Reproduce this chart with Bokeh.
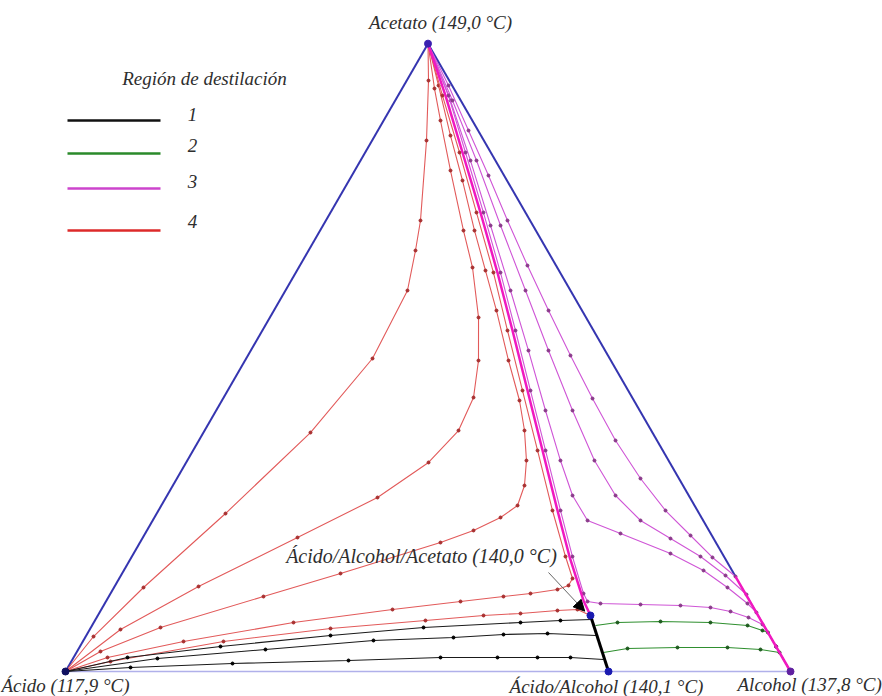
import numpy as np
from bokeh.plotting import figure
from bokeh.models import Range1d, Label, Arrow, NormalHead
from bokeh.embed import file_html
from bokeh.resources import INLINE

# ---- data: residue curves, compositions in mol % (alcohol, acetato); acido = rest
# Region 1 (black)
B1_alc = [0, 7.44, 19.39, 33.69, 45.88, 58.86, 64.21, 68.41]
B1_ace = [0, 2.23, 3.98, 5.73, 7.01, 7.80, 8.12, 8.28]
B2_alc = [0, 11.65, 25.83, 40.01, 50.81, 57.47, 63.46, 70.37]
B2_ace = [0, 2.07, 3.50, 4.94, 5.41, 5.89, 6.05, 5.73]
B3_alc = [0, 8.65, 22.40, 38.16, 50.61, 58.47, 63.99, 68.54, 73.25]
B3_ace = [0, 0.64, 1.27, 1.75, 2.23, 2.23, 2.23, 2.23, 1.91]
# Region 2 (green)
G1_alc = [69.44, 72.24, 78.09, 85.06, 90.41, 92.87, 93.79, 100]
G1_ace = [7.33, 7.80, 7.96, 7.80, 7.33, 6.53, 6.21, 0]
G2_alc = [72.69, 75.69, 82.50, 89.40, 94.11, 96.97, 100]
G2_ace = [3.03, 3.66, 3.82, 3.82, 3.50, 3.03, 0]
# Region 3 (magenta)
M1_alc = [0, 6.96, 13.84, 21.10, 28.23, 34.91, 41.76, 48.61, 55.46, 60.77, 65.24, 66.43,
          68.38, 73.98, 79.57, 83.87, 86.95, 89.91, 92.40, 96.02, 100]
M1_ace = [100, 91.73, 82.66, 73.10, 63.54, 54.31, 44.75, 35.20, 25.64, 18.31, 12.42, 11.15,
          10.83, 10.67, 10.51, 10.19, 9.56, 8.60, 7.49, 3.98, 0]
MB_alc = [0, 7.63, 15.17, 23.11, 31.04, 38.30, 45.42, 51.47, 55.92, 59.98, 65.56, 74.05,
          79.96, 84.62, 88.65, 90.60, 96.02, 100]
MB_ace = [100, 90.94, 81.38, 71.03, 60.68, 51.12, 41.57, 33.60, 28.03, 24.05, 21.98, 18.79,
          16.09, 13.38, 10.83, 9.40, 3.98, 0]
MC_alc = [0, 7.91, 16.00, 24.49, 33.11, 41.06, 49.15, 56.16, 61.85, 67.29, 72.86, 78.43,
          83.39, 87.80, 96.02, 100]
MC_ace = [100, 90.94, 81.38, 71.03, 60.68, 51.12, 41.57, 33.60, 28.03, 24.05, 21.18, 18.31,
          15.29, 12.26, 3.98, 0]
MA_alc = [0, 6.16, 12.51, 18.85, 25.05, 31.39, 37.88, 44.49, 50.95, 57.47, 63.94, 69.94,
          75.38, 80.16, 84.85, 96.02, 100]
MA_ace = [100, 93.33, 86.16, 78.99, 71.83, 64.66, 57.49, 50.33, 43.48, 36.79, 30.74, 25.64,
          21.66, 18.16, 15.13, 3.98, 0]
# Region 4 (red)
R1_alc = [0, 1.08, 4.07, 9.49, 14.76, 17.42, 16.83, 14.75, 13.05, 7.51, 3.01, 0]
R1_ace = [0, 5.57, 13.38, 25.16, 38.06, 49.85, 60.68, 67.05, 71.83, 84.57, 94.12, 100]
R2_alc = [0, 4.24, 11.58, 21.33, 29.18, 33.43, 35.02, 34.46, 32.20, 28.78, 23.97, 19.78,
          13.21, 7.85, 4.47, 0]
R2_ace = [0, 6.69, 13.54, 21.34, 27.71, 33.29, 38.38, 43.64, 49.53, 56.38, 64.34, 70.23,
          79.79, 87.75, 92.85, 100]
R3_alc = [0, 3.23, 9.60, 21.34, 30.13, 41.45, 45.05, 47.74, 49.13, 48.50, 46.78, 44.12,
          41.04, 36.34, 30.70, 26.00, 21.30, 15.66, 10.42, 4.79, 0]
R3_ace = [0, 3.19, 7.01, 11.94, 15.61, 20.54, 22.46, 24.53, 26.44, 29.62, 33.60, 38.38,
          43.16, 49.53, 57.49, 63.86, 70.23, 78.20, 85.36, 93.33, 100]
R4_alc = [0, 4.68, 13.89, 27.55, 40.17, 48.91, 54.44, 57.93, 61.33, 62.53, 62.53, 59.81,
          54.35, 47.51, 40.66, 33.81, 27.26, 20.14, 13.02, 6.13, 0]
R4_ace = [0, 2.23, 4.78, 7.80, 9.87, 11.15, 11.94, 12.42, 13.06, 13.70, 14.81, 18.31,
          25.64, 35.20, 44.75, 54.31, 63.54, 73.10, 82.66, 91.73, 100]
R5_alc = [0, 5.41, 19.40, 33.13, 45.59, 53.20, 58.14, 63.00, 65.68, 67.95]
R5_ace = [0, 1.59, 4.78, 6.85, 8.12, 8.92, 9.24, 9.71, 9.87, 8.92]
# Separatrices
SEP_M_alc = [0, 6.55, 13.43, 20.69, 27.81, 34.50, 41.35, 48.20, 55.04, 60.36, 65.79, 67.95]
SEP_M_ace = [100, 91.73, 82.66, 73.10, 63.54, 54.31, 44.75, 35.20, 25.64, 18.31, 11.31, 8.92]
SEP_B_alc = [67.95, 74.90]
SEP_B_ace = [8.92, 0]
EDGE_M_alc = [84.85, 100]
EDGE_M_ace = [15.13, 0]
# Singular points
PT_names = ["Acetato", "Ácido", "Alcohol", "Ácido/Alcohol", "Ácido/Alcohol/Acetato"]
PT_alc = [0, 0, 100, 74.90, 67.95]
PT_ace = [100, 0, 0, 0, 8.92]
PT_temp = ["149,0", "117,9", "137,8", "140,1", "140,0"]
LEGEND_title = "Región de destilación"
LEGEND_labels = ["1", "2", "3", "4"]

S3 = np.sqrt(3) / 2


def tern(alc, ace):
    a = np.asarray(alc, float) / 100.0
    c = np.asarray(ace, float) / 100.0
    return a + 0.5 * c, S3 * c


def pg(px, py):
    # page pixel -> plot coordinates (layout helper for annotations)
    return (px - 65) / 725.0, (671 - py) / 725.0


W, H = 882, 696
p = figure(width=W, height=H, output_backend="svg", toolbar_location=None,
           x_range=Range1d((0 - 65) / 725.0, (W - 65) / 725.0),
           y_range=Range1d((671 - H) / 725.0, 671 / 725.0),
           x_axis_location=None, y_axis_location=None, min_border=0)
p.grid.visible = False
p.outline_line_color = None
p.background_fill_color = "white"

# triangle edges
x, y = tern([0, 0], [0, 100]); p.line(x, y, line_color="#3535b0", line_width=2)
x, y = tern([0, 84.85], [100, 15.13]); p.line(x, y, line_color="#3535b0", line_width=2)
x, y = tern([0, 100], [0, 0]); p.line(x, y, line_color="#b0b0ea", line_width=1.5)

def curve(alc, ace, color, mcolor, lw=1.1):
    x, y = tern(alc, ace)
    p.line(x, y, line_color=color, line_width=lw)
    p.scatter(x[1:-1], y[1:-1], size=3, color=mcolor)

for a, c in [(R1_alc, R1_ace), (R2_alc, R2_ace), (R3_alc, R3_ace), (R4_alc, R4_ace), (R5_alc, R5_ace)]:
    curve(a, c, "#e25a5a", "#a83030")
for a, c in [(MA_alc, MA_ace), (MC_alc, MC_ace), (MB_alc, MB_ace), (M1_alc, M1_ace)]:
    curve(a, c, "#cf55d6", "#8a3a8a")
for a, c in [(G1_alc, G1_ace), (G2_alc, G2_ace)]:
    curve(a, c, "#2f8f2f", "#1d5a1d")
for a, c in [(B1_alc, B1_ace), (B2_alc, B2_ace), (B3_alc, B3_ace)]:
    curve(a, c, "#1a1a1a", "#000000")

x, y = tern(SEP_M_alc, SEP_M_ace); p.line(x, y, line_color="#f018c0", line_width=2.5)
x, y = tern(EDGE_M_alc, EDGE_M_ace); p.line(x, y, line_color="#f018c0", line_width=2.5)
x, y = tern(SEP_B_alc, SEP_B_ace); p.line(x, y, line_color="#000000", line_width=3)

# arrow to ternary azeotrope
ax0, ay0 = pg(548, 572)
tx, ty = tern([PT_alc[4]], [PT_ace[4]])
p.add_layout(Arrow(end=NormalHead(size=11, fill_color="black", line_color="black"),
                   x_start=ax0, y_start=ay0, x_end=float(tx[0]) - 0.008, y_end=float(ty[0]) + 0.006,
                   line_color="#666666", line_width=1))

x, y = tern(PT_alc, PT_ace)
p.scatter(x, y, size=7, color=["#3a20b0", "#101060", "#6020a0", "#1a1ab0", "#1a1ab0"])

FONT = "Liberation Serif"
def lab(px, py, text, align="center", size="19px"):
    lx, ly = pg(px, py)
    p.add_layout(Label(x=lx, y=ly, text=text, text_font=FONT, text_font_style="italic",
                       text_font_size=size, text_color="#2e2e2e", text_align=align,
                       text_baseline="middle"))

lab(440, 22, f"{PT_names[0]} ({PT_temp[0]} °C)")
lab(1, 685, f"{PT_names[1]} ({PT_temp[1]} °C)", align="left")
lab(737, 684, f"{PT_names[2]} ({PT_temp[2]} °C)", align="left")
lab(606, 686, f"{PT_names[3]} ({PT_temp[3]} °C)")
lab(421, 555, f"{PT_names[4]} ({PT_temp[4]} °C)", size="20px")

# legend
lab(204, 78, LEGEND_title)
leg_colors = ["#111111", "#2a8a2a", "#cc44cc", "#dd2a2a"]
leg_y = [120, 153, 188, 230]
leg_ty = [114, 145, 181, 221]
for col, ly, ty_, t in zip(leg_colors, leg_y, leg_ty, LEGEND_labels):
    x0, y0 = pg(67, ly); x1, _ = pg(160, ly)
    p.line([x0, x1], [y0, y0], line_color=col, line_width=2.5)
    lab(192, ty_, t)

open("out.html", "w").write(file_html(p, INLINE))
